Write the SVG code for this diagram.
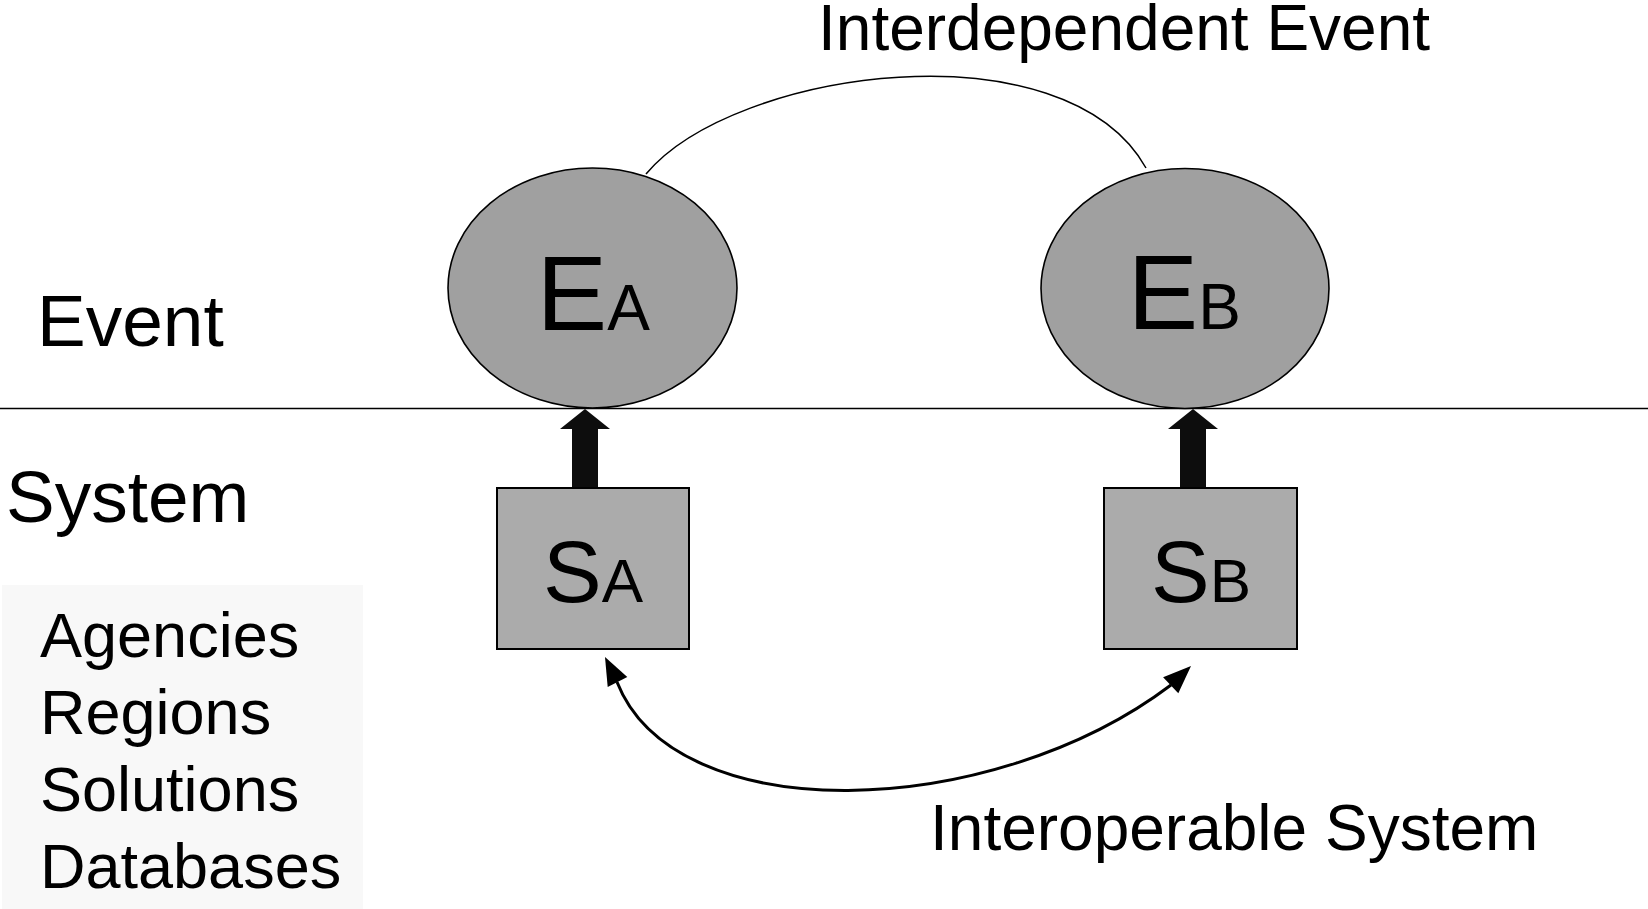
<svg xmlns="http://www.w3.org/2000/svg" width="1648" height="909" viewBox="0 0 1648 909">
<style>
text{font-family:"Liberation Sans",Arial,sans-serif;fill:#000}
.ev{fill:#a0a0a0;stroke:#000;stroke-width:1.6}
.sys{fill:#ababab;stroke:#000;stroke-width:2}
.blk{fill:#0d0d0d}
.lbl{font-size:64px}
.side{font-size:73px}
.item{font-size:63px}
</style>
<rect width="1648" height="909" fill="#fff"/>
<rect x="2" y="585" width="361" height="324" fill="#f8f8f8"/>
<line x1="0" y1="408.5" x2="1648" y2="408.5" stroke="#000" stroke-width="1.3"/>
<text class="side" x="37" y="346">Event</text>
<text class="side" x="6" y="522">System</text>
<g id="list">
<text class="item" x="40" y="657">Agencies</text>
<text class="item" x="40" y="734">Regions</text>
<text class="item" x="40" y="811">Solutions</text>
<text class="item" x="40" y="888">Databases</text>
</g>
<g id="connectors">
<path d="M646,174 C735,68 1065,24 1146,168" fill="none" stroke="#000" stroke-width="1.5"/>
<polygon class="blk" points="585,409 610,429 598,429 598,488 572,488 572,429 560,429"/>
<polygon class="blk" points="1193,409 1218,429 1206,429 1206,488 1180,488 1180,429 1168,429"/>
<path d="M617,682 C675,830 990,822 1171,685" fill="none" stroke="#000" stroke-width="3"/>
<polygon points="605,657 627.3,677.1 607.7,686.9" fill="#000"/>
<polygon points="1191,666 1178.3,693.3 1163.1,677.3" fill="#000"/>
</g>
<g id="EA">
<ellipse class="ev" cx="592.5" cy="288" rx="144.5" ry="120"/>
<text x="536.6" y="330" font-size="106">E<tspan font-size="64">A</tspan></text>
</g>
<g id="EB">
<ellipse class="ev" cx="1185" cy="288.5" rx="144" ry="120"/>
<text x="1127.6" y="329" font-size="106">E<tspan font-size="64">B</tspan></text>
</g>
<g id="SA">
<rect class="sys" x="497" y="488" width="192" height="161"/>
<text x="543" y="602" font-size="88">S<tspan font-size="62">A</tspan></text>
</g>
<g id="SB">
<rect class="sys" x="1104" y="488" width="193" height="161"/>
<text x="1151" y="602" font-size="88">S<tspan font-size="62">B</tspan></text>
</g>
<text class="lbl" x="818" y="50">Interdependent Event</text>
<text class="lbl" x="930" y="850">Interoperable System</text>
</svg>
